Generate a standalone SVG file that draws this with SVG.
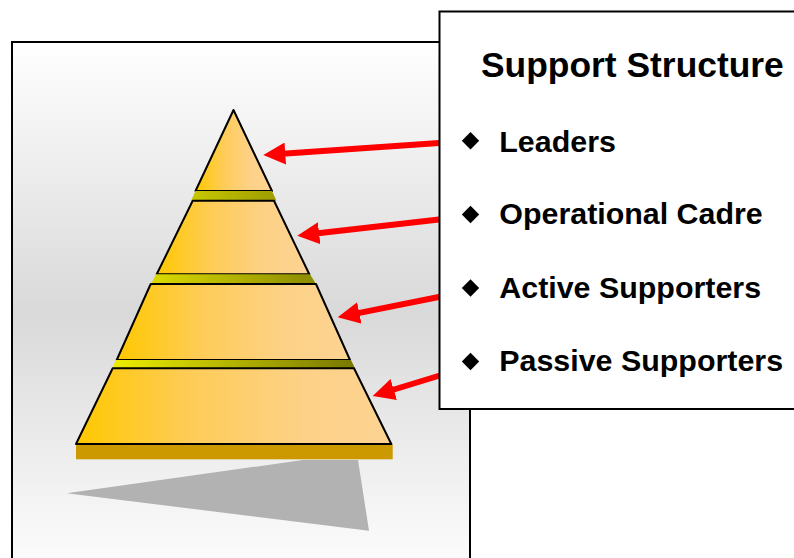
<svg xmlns="http://www.w3.org/2000/svg" width="794" height="558" viewBox="0 0 794 558">
  <defs>
    <linearGradient id="bgGrad" x1="0" y1="0" x2="0" y2="1">
      <stop offset="0" stop-color="#ffffff"/>
      <stop offset="0.5" stop-color="#d9d9d9"/>
      <stop offset="1" stop-color="#ffffff"/>
    </linearGradient>
    <linearGradient id="tierGrad" x1="0" y1="0" x2="1" y2="0">
      <stop offset="0" stop-color="#ffc800"/>
      <stop offset="0.35" stop-color="#fecc55"/>
      <stop offset="0.7" stop-color="#fdd185"/>
      <stop offset="1" stop-color="#fdd393"/>
    </linearGradient>
    <linearGradient id="bandGrad" gradientUnits="userSpaceOnUse" x1="76" y1="0" x2="392" y2="0">
      <stop offset="0" stop-color="#ffff00"/>
      <stop offset="1" stop-color="#666600"/>
    </linearGradient>
    <marker id="head" viewBox="0 0 22 22" markerWidth="22" markerHeight="22" refX="10" refY="11" orient="auto" markerUnits="userSpaceOnUse">
      <path d="M0,0 L22,11 L0,22 z" fill="#ff0000"/>
    </marker>
    <path id="bullet" d="M0,-8.7 L8.7,0 L0,8.7 L-8.7,0 z" fill="#000"/>
  </defs>
  <style>
    .tier { fill: url(#tierGrad); stroke: #000; stroke-width: 2; stroke-linejoin: round; }
    .band { fill: url(#bandGrad); }
    .conn { stroke: #ff0000; stroke-width: 6; fill: none; marker-end: url(#head); }
    .title { font-family: "Liberation Sans", Arial, sans-serif; font-weight: bold; font-size: 35.4px; fill: #000; }
    .item { font-family: "Liberation Sans", Arial, sans-serif; font-weight: bold; font-size: 30.4px; fill: #000; }
  </style>

  <g id="panel">
    <rect x="12" y="42" width="458" height="540" fill="url(#bgGrad)" stroke="#000" stroke-width="2"/>
  </g>

  <g id="shadow">
    <polygon points="66.7,493.3 303,460 358,460 369,530.7" fill="#b2b2b2"/>
  </g>

  <g id="pyramid">
    <g id="tier-leaders">
      <polygon class="tier" points="233.5,110 272,191 195.5,191"/>
    </g>
    <polygon class="band" points="195.5,191 272,191 276.5,200.7 191,200.7"/>
    <g id="tier-operational-cadre">
      <polygon class="tier" points="192.7,200.7 274,200.7 309.3,274.3 156.7,274.3"/>
    </g>
    <polygon class="band" points="156,274.3 310,274.3 316,284 151,284"/>
    <g id="tier-active-supporters">
      <polygon class="tier" points="150.7,284 316,284 350,360 116.7,360"/>
    </g>
    <polygon class="band" points="116,360 351,360 355,368.3 112,368.3"/>
    <g id="tier-passive-supporters">
      <rect x="76" y="444" width="316.7" height="15.3" fill="#cc9900"/>
      <polygon class="tier" points="112.7,368.3 354,368.3 391.3,444 76,444"/>
    </g>
  </g>

  <g id="connectors">
    <line class="conn" x1="450" y1="142.3" x2="275.3" y2="154.2"/>
    <line class="conn" x1="450" y1="218.2" x2="309.2" y2="234.3"/>
    <line class="conn" x1="450" y1="294.7" x2="349.5" y2="314.9"/>
    <line class="conn" x1="449.6" y1="372.5" x2="384.2" y2="392.5"/>
  </g>

  <g id="legend">
    <rect x="439.5" y="11.5" width="360" height="397.5" fill="#ffffff" stroke="#000" stroke-width="2"/>
    <text class="title" x="481" y="77">Support Structure</text>
    <g id="item-leaders">
      <use href="#bullet" x="470.5" y="140.8"/>
      <text class="item" x="499.3" y="151.7">Leaders</text>
    </g>
    <g id="item-operational-cadre">
      <use href="#bullet" x="470.5" y="214.5"/>
      <text class="item" x="499.3" y="224">Operational Cadre</text>
    </g>
    <g id="item-active-supporters">
      <use href="#bullet" x="470.5" y="288"/>
      <text class="item" x="499.3" y="297.7">Active Supporters</text>
    </g>
    <g id="item-passive-supporters">
      <use href="#bullet" x="470.5" y="361.5"/>
      <text class="item" x="499.3" y="371">Passive Supporters</text>
    </g>
  </g>
</svg>
